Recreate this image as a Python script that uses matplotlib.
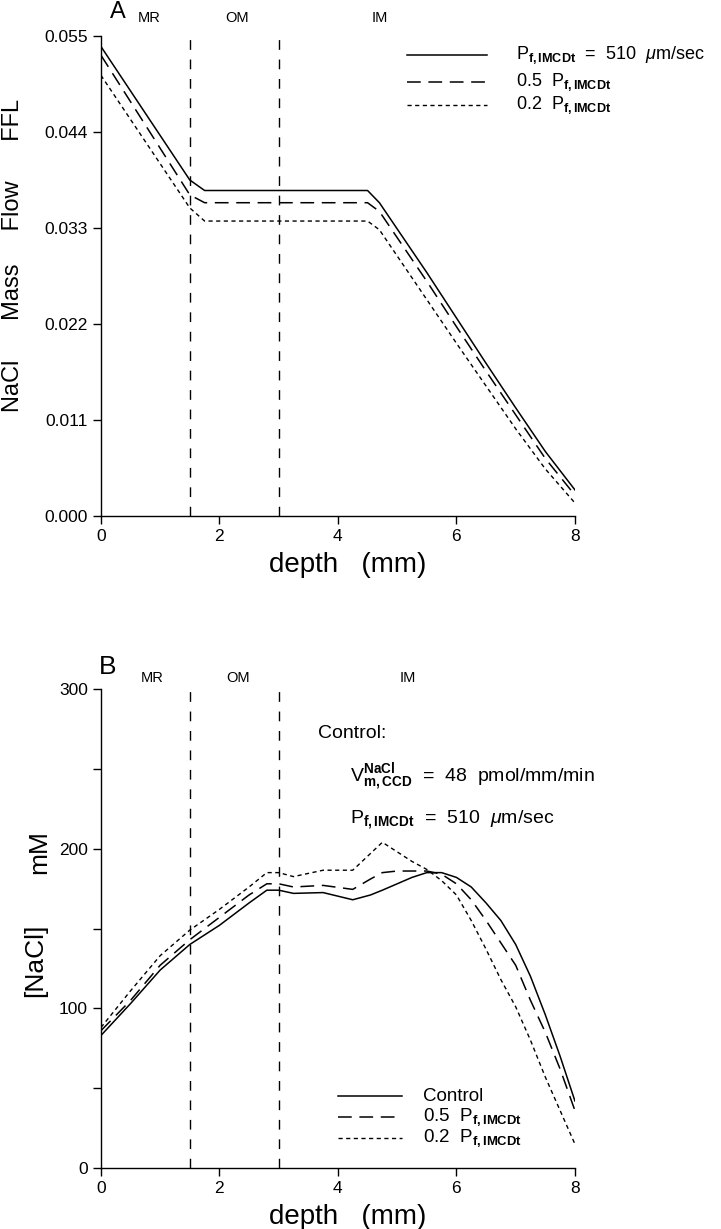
import matplotlib
matplotlib.use('Agg')
import matplotlib.pyplot as plt

plt.rcParams['font.family'] = ['Liberation Sans', 'DejaVu Sans']
plt.rcParams['mathtext.fontset'] = 'custom'
plt.rcParams['mathtext.rm'] = 'Liberation Sans'
plt.rcParams['mathtext.it'] = 'Liberation Sans:italic'
plt.rcParams['mathtext.bf'] = 'Liberation Sans:bold'

# Panel A: NaCl mass flow in FFL
depth_a = [0, 1.5, 1.75, 4.5, 4.7, 5.5, 6.0, 6.5, 7.0, 7.5, 8.0]
flow_full = [0.0538, 0.0385, 0.0373, 0.0373, 0.0359, 0.0279, 0.0227, 0.0175, 0.0124, 0.0074, 0.0030]
flow_half = [0.0528, 0.0368, 0.0359, 0.0359, 0.0349, 0.0269, 0.0217, 0.0166, 0.0116, 0.0066, 0.0024]
flow_fifth = [0.0505, 0.0353, 0.0338, 0.0338, 0.0328, 0.0248, 0.0198, 0.0149, 0.0100, 0.0054, 0.0015]

# Panel B: [NaCl] in mM
depth_b = [0, 0.5, 1.0, 1.5, 2.0, 2.5, 2.8, 3.0, 3.25, 3.75, 4.25, 4.55, 4.75,
           5.0, 5.25, 5.5, 5.75, 6.0, 6.25, 6.5, 6.75, 7.0, 7.25, 7.5, 7.75, 8.0]
nacl_control = [83, 103, 124, 140, 152, 166, 174, 174, 172, 172.5, 168, 171, 174,
                178, 182, 185, 185, 182, 176, 166, 155, 140, 120, 96, 70, 42]
nacl_half = [86, 105, 127, 143, 157, 171, 178, 178, 176, 177, 174.5, 181, 185,
             186, 186, 186, 184, 178, 168, 155, 141, 127, 105, 85, 62, 36]
nacl_fifth = [88, 111, 133, 149, 162, 176, 185, 185, 182.5, 186.5, 186.5, 197, 204,
              198, 192, 187, 180, 171, 155, 137, 118, 101, 80, 57, 36, 15]

zone_bounds = [1.5, 3.0]
zone_names = ['MR', 'OM', 'IM']

solid = dict(color='black', lw=1.1, linestyle='-')
dash = dict(color='black', lw=1.1, linestyle=(0, (9, 5)))
dot = dict(color='black', lw=1.0, linestyle=(0, (3, 2.5)))
vline = dict(color='black', lw=1.0, linestyle=(0, (7, 7)))

fig = plt.figure(figsize=(7.21, 12.29), dpi=100)
ax1 = fig.add_axes([0.140, 0.5801, 0.6574, 0.3906])
ax2 = fig.add_axes([0.140, 0.0496, 0.6574, 0.3898])

for ax in (ax1, ax2):
    for s in ('top', 'right'):
        ax.spines[s].set_visible(False)
    ax.spines['left'].set_linewidth(1.0)
    ax.spines['bottom'].set_linewidth(1.0)
    ax.tick_params(direction='out', length=6, width=1.0, labelsize=12.5)
    ax.tick_params(which='minor', direction='out', length=6, width=1.0)
    ax.set_xlim(0, 8)
    ax.set_xticks([0, 2, 4, 6, 8])
    ax.set_xlabel('depth   (mm)', fontsize=20, labelpad=2)
    ax.xaxis.set_label_coords(0.52, -0.075)
    for xb in zone_bounds:
        ax.axvline(xb, **vline)

# ---- Panel A
ax1.plot(depth_a, flow_full, **solid)
ax1.plot(depth_a, flow_half, **dash)
ax1.plot(depth_a, flow_fifth, **dot)
ax1.set_ylim(0, 0.055)
ax1.set_yticks([0, 0.011, 0.022, 0.033, 0.044, 0.055])
ax1.set_yticklabels(['0.000', '0.011', '0.022', '0.033', '0.044', '0.055'])
fig.text(0.018, 0.792, 'NaCl      Mass     Flow      FFL', rotation=90, fontsize=17,
         ha='center', va='center')
ax1.text(0.28, 0.0578, 'A', fontsize=17, ha='center', va='center', clip_on=False)
for nm, xp in zip(zone_names, [0.82, 2.3, 4.7]):
    ax1.text(xp, 0.0571, nm, fontsize=10.5, ha='center', va='center', clip_on=False)

pf = r'P$_{\mathbf{f,IMCDt}}$'
leg_a = [(solid, pf + r'  =  510  $\mathit{\mu}$m/sec', 0.0528),
         (dash, '0.5  ' + pf, 0.0497),
         (dot, '0.2  ' + pf, 0.0471)]
for sty, lab, yy in leg_a:
    ax1.plot([5.17, 6.52], [yy, yy], **sty)
    ax1.text(7.0, yy, lab, fontsize=13, va='center', ha='left', clip_on=False)

# ---- Panel B
ax2.plot(depth_b, nacl_control, **solid)
ax2.plot(depth_b, nacl_half, **dash)
ax2.plot(depth_b, nacl_fifth, **dot)
ax2.set_ylim(0, 300)
ax2.set_yticks([0, 100, 200, 300])
ax2.set_yticks([50, 150, 250], minor=True)
fig.text(0.049, 0.219, '[NaCl]', rotation=90, fontsize=19, ha='center', va='center')
fig.text(0.055, 0.307, 'mM', rotation=90, fontsize=19, ha='center', va='center')
ax2.text(0.12, 314, 'B', fontsize=19, ha='center', va='center', clip_on=False)
for nm, xp in zip(zone_names, [0.86, 2.31, 5.18]):
    ax2.text(xp, 307, nm, fontsize=10.5, ha='center', va='center', clip_on=False)

ax2.text(3.66, 272, 'Control:', fontsize=14, va='center', ha='left')
ax2.text(4.2, 245, r'V$_{\mathbf{m,CCD}}^{\mathbf{NaCl}}$  =  48  pmol/mm/min',
         fontsize=14, va='center', ha='left')
ax2.text(4.2, 218, pf + r'  =  510  $\mathit{\mu}$m/sec', fontsize=14,
         va='center', ha='left')

leg_b = [(solid, 'Control', 45),
         (dash, '0.5  ' + pf, 32),
         (dot, '0.2  ' + pf, 19)]
for sty, lab, yy in leg_b:
    ax2.plot([4.0, 5.08], [yy, yy], **sty)
    ax2.text(5.43, yy, lab, fontsize=13.5, va='center', ha='left')

fig.savefig('out.png', dpi=100)
